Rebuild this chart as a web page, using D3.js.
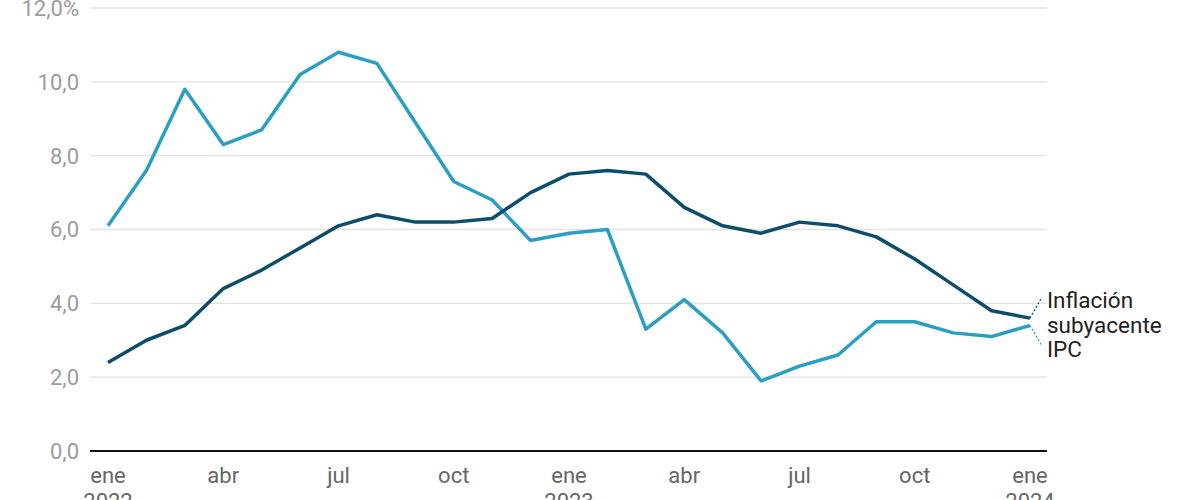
<!DOCTYPE html>
<html>
<head>
<meta charset="utf-8">
<script src="https://cdn.jsdelivr.net/npm/d3@7"></script>
<style>
  body { margin: 0; background: #fff; }
  svg { display: block; font-family: Roboto, "Noto Sans", sans-serif; }
</style>
</head>
<body>
<svg id="chart" width="1200" height="500"></svg>
<script>
// meses ene 2022 .. ene 2024
var months = ["ene 2022", "feb", "mar", "abr", "may", "jun", "jul", "ago", "sep", "oct", "nov", "dic",
              "ene 2023", "feb", "mar", "abr", "may", "jun", "jul", "ago", "sep", "oct", "nov", "dic",
              "ene 2024"];
var ipc = [6.1, 7.6, 9.8, 8.3, 8.7, 10.2, 10.8, 10.5, 8.9, 7.3, 6.8, 5.7,
           5.9, 6.0, 3.3, 4.1, 3.2, 1.9, 2.3, 2.6, 3.5, 3.5, 3.2, 3.1,
           3.4];
var subyacente = [2.4, 3.0, 3.4, 4.4, 4.9, 5.5, 6.1, 6.4, 6.2, 6.2, 6.3, 7.0,
                  7.5, 7.6, 7.5, 6.6, 6.1, 5.9, 6.2, 6.1, 5.8, 5.2, 4.5, 3.8,
                  3.6];
var xTickIdx = [0, 3, 6, 9, 12, 15, 18, 21, 24];
var xTickLabels = [["ene", "2022"], ["abr"], ["jul"], ["oct"], ["ene", "2023"], ["abr"], ["jul"], ["oct"], ["ene", "2024"]];
var yTicks = [0, 2, 4, 6, 8, 10, 12];

var svg = d3.select("#chart");
var plotLeft = 90, plotRight = 1047, plotTop = 8, plotBottom = 451;

var x = d3.scaleLinear().domain([0, months.length - 1]).range([108, 1030]);
var y = d3.scaleLinear().domain([0, 12]).range([plotBottom, plotTop]);

var es = d3.formatLocale({decimal: ",", thousands: ".", grouping: [3], currency: ["", "€"]});
var fmt = es.format(".1f");

// gridlines + y labels
svg.append("g").selectAll("line").data(yTicks.filter(d => d > 0)).enter().append("line")
    .attr("x1", plotLeft).attr("x2", plotRight)
    .attr("y1", d => y(d)).attr("y2", d => y(d))
    .attr("stroke", "#e2e2e2").attr("stroke-width", 1.3);

svg.append("g").selectAll("text").data(yTicks).enter().append("text")
    .attr("x", 79).attr("y", d => y(d))
    .attr("dy", "0.36em")
    .attr("text-anchor", "end")
    .attr("font-size", 22)
    .attr("fill", "#9c9c9c")
    .text(d => fmt(d) + (d === 12 ? "%" : ""));

// baseline
svg.append("line")
    .attr("x1", plotLeft).attr("x2", plotRight)
    .attr("y1", y(0)).attr("y2", y(0))
    .attr("stroke", "#111").attr("stroke-width", 2);

// x labels
var xl = svg.append("g").selectAll("text").data(xTickIdx).enter().append("text")
    .attr("x", d => x(d)).attr("y", 483)
    .attr("text-anchor", "middle")
    .attr("font-size", 22)
    .attr("fill", "#666");
xl.selectAll("tspan").data((d, i) => xTickLabels[i]).enter().append("tspan")
    .attr("x", function() { return d3.select(this.parentNode).attr("x"); })
    .attr("dy", (d, i) => i === 0 ? 0 : 26)
    .text(d => d);

// lines
var line = d3.line().x((d, i) => x(i)).y(d => y(d));
svg.append("path").datum(ipc)
    .attr("d", line).attr("fill", "none")
    .attr("stroke", "#2a9fc4").attr("stroke-width", 3.5)
    .attr("stroke-linejoin", "round");
svg.append("path").datum(subyacente)
    .attr("d", line).attr("fill", "none")
    .attr("stroke", "#0c4d6b").attr("stroke-width", 3.5)
    .attr("stroke-linejoin", "round");

// labels at line end
var last = months.length - 1;
svg.append("line")
    .attr("x1", x(last)).attr("y1", y(subyacente[last]))
    .attr("x2", x(last) + 12).attr("y2", 297)
    .attr("stroke", "#0c4d6b").attr("stroke-width", 1.3).attr("stroke-dasharray", "2,2");
svg.append("line")
    .attr("x1", x(last)).attr("y1", y(ipc[last]))
    .attr("x2", x(last) + 12).attr("y2", 346)
    .attr("stroke", "#2a9fc4").attr("stroke-width", 1.3).attr("stroke-dasharray", "2,2");

var lab = svg.append("text")
    .attr("x", 1047).attr("y", 308)
    .attr("font-size", 22.5).attr("fill", "#222");
lab.append("tspan").attr("x", 1047).attr("dy", 0).text("Inflación");
lab.append("tspan").attr("x", 1047).attr("dy", 25).text("subyacente");
svg.append("text")
    .attr("x", 1047).attr("y", 357)
    .attr("font-size", 22.5).attr("fill", "#222")
    .text("IPC");
</script>
</body>
</html>
